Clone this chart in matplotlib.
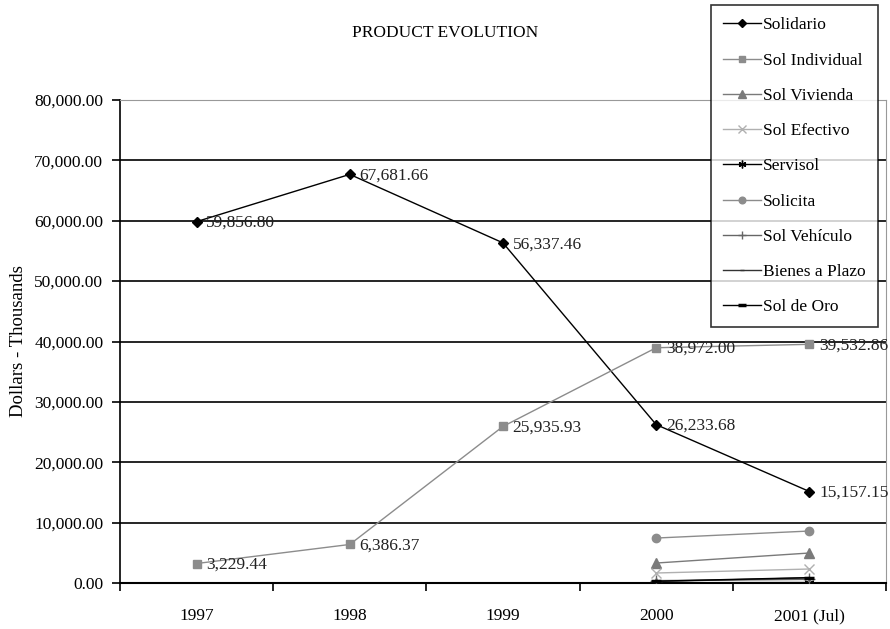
import matplotlib.pyplot as plt
import numpy as np

plt.rcParams['font.family'] = ['Liberation Serif', 'DejaVu Serif']

# data (thousands of dollars)
years = ["1997", "1998", "1999", "2000", "2001 (Jul)"]
solidario = [59856.80, 67681.66, 56337.46, 26233.68, 15157.15]
sol_individual = [3229.44, 6386.37, 25935.93, 38972.00, 39532.86]
sol_vivienda = [None, None, None, 3310, 4970]
sol_efectivo = [None, None, None, 1660, 2320]
servisol = [None, None, None, 50, 80]
solicita = [None, None, None, 7450, 8610]
sol_vehiculo = [None, None, None, 400, 600]
bienes_plazo = [None, None, None, 250, 850]
sol_de_oro = [None, None, None, 300, 900]

series = [
    ("Solidario", solidario, "black", "D", 5, 1.0),
    ("Sol Individual", sol_individual, "#8c8c8c", "s", 6, 1.0),
    ("Sol Vivienda", sol_vivienda, "#7a7a7a", "^", 7, 1.0),
    ("Sol Efectivo", sol_efectivo, "#b0b0b0", "x", 7, 1.0),
    ("Servisol", servisol, "black", (6, 2, 0), 7, 1.0),
    ("Solicita", solicita, "#8c8c8c", "o", 6, 1.0),
    ("Sol Vehículo", sol_vehiculo, "#666666", "+", 8, 1.0),
    ("Bienes a Plazo", bienes_plazo, "#333333", "_", 4, 1.0),
    ("Sol de Oro", sol_de_oro, "black", "_", 7, 1.0),
]

fig = plt.figure(figsize=(8.9, 6.29), dpi=100)
ax = fig.add_axes([0.1348, 0.0731, 0.8607, 0.7679])

x = np.arange(len(years))
for name, vals, color, marker, ms, lw in series:
    y = np.array([np.nan if v is None else v for v in vals], dtype=float)
    mew = 2.5 if name == "Sol de Oro" else 1.0
    ax.plot(x, y, color=color, marker=marker, markersize=ms, linewidth=lw,
            markeredgewidth=mew, label=name, zorder=3)

for vals in (solidario, sol_individual):
    for xi, v in zip(x, vals):
        ax.annotate(f"{v:,.2f}", (xi, v), xytext=(7, -1), textcoords="offset points",
                    ha="left", va="center", fontsize=12.5, color="#222222", zorder=4,
                    annotation_clip=False)

ax.set_xlim(-0.5, 4.5)
ax.set_ylim(0, 80000)
ax.set_yticks(np.arange(0, 80001, 10000))
ax.set_yticklabels([f"{v:,.2f}" for v in np.arange(0, 80001, 10000)], fontsize=12.5)
ax.set_xticks(np.arange(-0.5, 4.6, 1.0))
ax.set_xticklabels([])
ax.set_xticks(x, minor=True)
ax.set_xticklabels(years, minor=True, fontsize=12.5)
ax.tick_params(axis="x", which="minor", length=0, pad=18)
ax.tick_params(axis="x", which="major", length=6, direction="out", width=1.2)
ax.tick_params(axis="y", length=6, direction="out", width=1.2, pad=6)

for yv in range(10000, 80000, 10000):
    ax.axhline(yv, color="black", linewidth=1.2, zorder=1)
ax.spines["top"].set_color("#999999")
ax.spines["right"].set_color("#999999")
ax.spines["left"].set_linewidth(1.2)
ax.spines["bottom"].set_linewidth(1.5)

ax.set_ylabel("Dollars - Thousands", fontsize=13.5, labelpad=5)
fig.text(0.5, 0.948, "PRODUCT EVOLUTION", ha="center", va="center", fontsize=12.5)

leg = fig.legend(loc="upper left", bbox_to_anchor=(0.799, 0.992), fontsize=12.5,
                 frameon=True, fancybox=False, edgecolor="black", labelspacing=1.1,
                 handlelength=2.2, handletextpad=0.1, borderpad=0.7, markerscale=0.8,
                 borderaxespad=0)
leg.get_frame().set_linewidth(1.2)

fig.savefig("out.png", dpi=100)
